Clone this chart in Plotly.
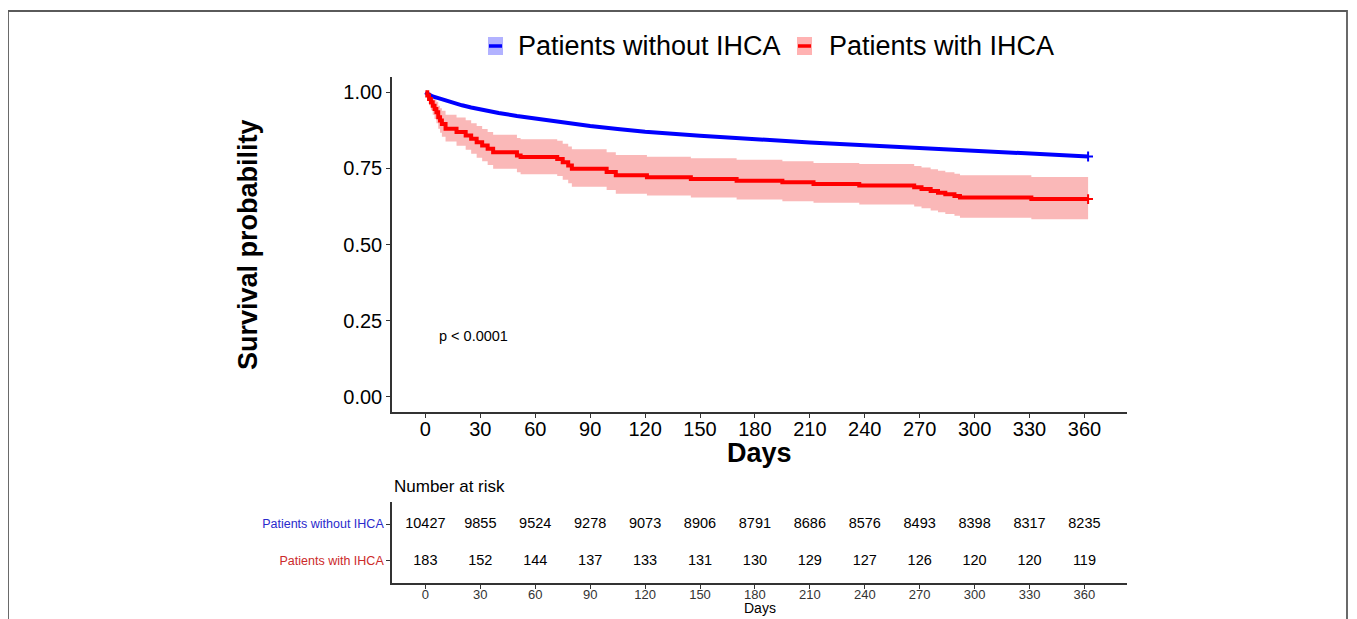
import plotly.graph_objects as go

W, H = 1357, 619
OFF = 8  # default body margin of the html page

# number at risk table
days_ticks = [0, 30, 60, 90, 120, 150, 180, 210, 240, 270, 300, 330, 360]
risk_without = [10427, 9855, 9524, 9278, 9073, 8906, 8791, 8686, 8576, 8493, 8398, 8317, 8235]
risk_with = [183, 152, 144, 137, 133, 131, 130, 129, 127, 126, 120, 120, 119]

# KM curve, patients without IHCA
blue_days = [0, 1, 2, 4, 6, 8, 10, 13, 16, 20, 25, 30, 40, 50, 60, 75, 90, 105, 120,
             150, 180, 210, 240, 270, 300, 330, 362]
blue_surv = [1.0, 0.995, 0.992, 0.986, 0.982, 0.978, 0.974, 0.968, 0.963, 0.957, 0.950,
             0.943, 0.932, 0.922, 0.913, 0.900, 0.889, 0.879, 0.870, 0.857, 0.845, 0.835,
             0.826, 0.817, 0.806, 0.797, 0.789]

# KM curve, patients with IHCA, with 95% CI
red_days = [0, 1, 2, 3, 4, 5, 6, 7, 8, 9, 11, 17, 22, 25, 28, 31, 34, 37, 50, 52, 72, 75,
            78, 80, 99, 104, 121, 145, 170, 195, 212, 237, 267, 271, 276, 280, 284, 289,
            292, 331, 362]
red_surv = [1.0, 0.989, 0.978, 0.967, 0.956, 0.945, 0.934, 0.918, 0.907, 0.896, 0.880,
            0.869, 0.858, 0.847, 0.836, 0.825, 0.814, 0.803, 0.792, 0.787, 0.781, 0.770,
            0.759, 0.749, 0.738, 0.727, 0.721, 0.715, 0.709, 0.704, 0.699, 0.694, 0.688,
            0.682, 0.676, 0.670, 0.665, 0.659, 0.654, 0.649, 0.649]
red_upper = [1.0, 1.0, 0.999, 0.993, 0.985, 0.977, 0.969, 0.956, 0.947, 0.939, 0.926,
             0.917, 0.908, 0.898, 0.889, 0.879, 0.869, 0.860, 0.850, 0.846, 0.841, 0.831,
             0.822, 0.813, 0.803, 0.794, 0.788, 0.783, 0.778, 0.773, 0.768, 0.764, 0.758,
             0.753, 0.747, 0.742, 0.737, 0.732, 0.727, 0.722, 0.722]
red_lower = [1.0, 0.974, 0.957, 0.941, 0.926, 0.912, 0.898, 0.880, 0.867, 0.854, 0.838,
             0.824, 0.811, 0.798, 0.785, 0.773, 0.761, 0.749, 0.737, 0.731, 0.725, 0.713,
             0.701, 0.690, 0.679, 0.667, 0.661, 0.654, 0.648, 0.642, 0.637, 0.631, 0.625,
             0.619, 0.612, 0.606, 0.600, 0.594, 0.588, 0.583, 0.583]

group_names = ["Patients without IHCA", "Patients with IHCA"]
FONT = "Liberation Sans, Arial, sans-serif"


def px_x(p):
    return (p - OFF) / W


def px_y(p):
    return 1 - (p - OFF) / H


fig = go.Figure()

# CI band
fig.add_trace(go.Scatter(x=red_days, y=red_upper, mode="lines", line=dict(width=0, shape="hv"),
                         showlegend=False, hoverinfo="skip"))
fig.add_trace(go.Scatter(x=red_days, y=red_lower, mode="lines", line=dict(width=0, shape="hv"),
                         fill="tonexty", fillcolor="rgba(240,40,40,0.33)",
                         showlegend=False, hoverinfo="skip"))

fig.add_trace(go.Scatter(x=blue_days, y=blue_surv, mode="lines", line=dict(color="blue", width=4),
                         showlegend=False))
fig.add_trace(go.Scatter(x=red_days, y=red_surv, mode="lines",
                         line=dict(color="red", width=4, shape="hv"), showlegend=False))
# censor marks at the end
fig.add_trace(go.Scatter(x=[blue_days[-1], red_days[-1]], y=[blue_surv[-1], red_surv[-1]],
                         mode="markers", marker=dict(symbol="cross-thin", size=7,
                                                     line=dict(width=2, color=["blue", "red"])),
                         showlegend=False))

# risk table
fig.add_trace(go.Scatter(x=days_ticks, y=[2] * len(days_ticks), text=[str(v) for v in risk_without],
                         mode="text", textfont=dict(size=14.5, color="black", family=FONT),
                         xaxis="x2", yaxis="y2", showlegend=False))
fig.add_trace(go.Scatter(x=days_ticks, y=[1] * len(days_ticks), text=[str(v) for v in risk_with],
                         mode="text", textfont=dict(size=14.5, color="black", family=FONT),
                         xaxis="x2", yaxis="y2", showlegend=False))

xdom = [px_x(392), px_x(1127)]
axis_common = dict(showline=True, linecolor="#333", linewidth=1.5, ticks="outside", ticklen=4,
                   tickcolor="#333", tickwidth=1.2, showgrid=False, zeroline=False)

fig.update_layout(
    width=W, height=H,
    margin=dict(l=0, r=0, t=0, b=0),
    paper_bgcolor="white", plot_bgcolor="white",
    font=dict(family=FONT, color="black"),
    xaxis=dict(domain=xdom, range=[-18.25, 383.25], tickvals=days_ticks, anchor="y",
               tickfont=dict(size=20, color="black"), ticklabelstandoff=-6, **axis_common),
    yaxis=dict(domain=[px_y(412), px_y(77)], range=[-0.05, 1.05],
               tickvals=[0, 0.25, 0.5, 0.75, 1.0],
               ticktext=["0.00", "0.25", "0.50", "0.75", "1.00"], anchor="x",
               tickfont=dict(size=20, color="black"), **axis_common),
    xaxis2=dict(domain=xdom, range=[-18.25, 383.25], tickvals=days_ticks, anchor="y2",
                tickfont=dict(size=13, color="#333"), ticklabelstandoff=-5, **axis_common),
    yaxis2=dict(domain=[px_y(583), px_y(502)], range=[0.4, 2.6], tickvals=[2, 1],
                ticktext=['<span style="color:#2a2acc">%s</span>' % group_names[0],
                          '<span style="color:#cc2a2a">%s</span>' % group_names[1]],
                anchor="x2", tickfont=dict(size=12.5), **axis_common),
)

annotations = [
    dict(text="<b>Survival probability</b>", x=px_x(248), y=px_y(245), textangle=-90,
         font=dict(size=27)),
    dict(text="<b>Days</b>", x=px_x(759.5), y=px_y(453), font=dict(size=27)),
    dict(text="Number at risk", x=px_x(392), y=px_y(486), xanchor="left", font=dict(size=17)),
    dict(text="Days", x=px_x(759.5), y=px_y(608), font=dict(size=14)),
    dict(text="p < 0.0001", x=26, y=0.198, xref="x", yref="y", font=dict(size=14.5)),
    dict(text=group_names[0], x=px_x(516), y=px_y(46), xanchor="left", font=dict(size=27)),
    dict(text=group_names[1], x=px_x(827), y=px_y(46), xanchor="left", font=dict(size=27)),
]
for a in annotations:
    a.setdefault("xref", "paper")
    a.setdefault("yref", "paper")
    a.setdefault("xanchor", "center")
    a.setdefault("yanchor", "middle")
    a["showarrow"] = False
    fig.add_annotation(**a)

# legend keys
shapes = []
for x0, line_col, fill_col in [(488, "blue", "rgba(0,0,255,0.3)"), (797, "red", "rgba(255,0,0,0.3)")]:
    shapes.append(dict(type="rect", xref="paper", yref="paper", x0=px_x(x0), x1=px_x(x0 + 15),
                       y0=px_y(55), y1=px_y(37), fillcolor=fill_col, line=dict(width=0)))
    shapes.append(dict(type="line", xref="paper", yref="paper", x0=px_x(x0 + 1), x1=px_x(x0 + 14),
                       y0=px_y(46), y1=px_y(46), line=dict(color=line_col, width=3.5)))
# outer frame (right edge kept inside the visible page area)
shapes.append(dict(type="rect", xref="paper", yref="paper", x0=px_x(8), x1=px_x(1347),
                   y0=-0.05, y1=px_y(11), line=dict(color="#5a5a5a", width=1.8)))
fig.update_layout(shapes=shapes)

fig.write_html("out.html")
